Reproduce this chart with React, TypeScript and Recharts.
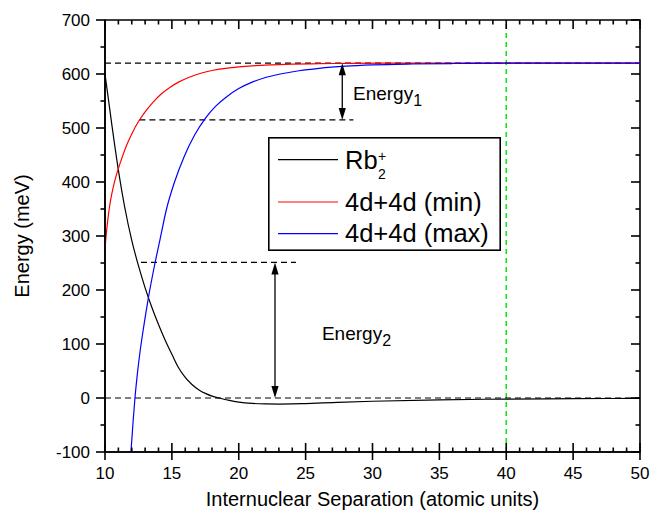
import React from 'react';
import {
  LineChart, Line, XAxis, YAxis, ReferenceLine, ReferenceDot, ReferenceArea, Legend,
} from 'recharts';

// ---------- data ----------
const rbX = [10, 10.5, 11, 11.5, 12, 12.5, 13, 13.5, 14, 14.5, 15, 15.5, 16, 16.5, 17, 17.5, 18, 18.6, 19.3, 20, 21, 22, 23, 24, 25, 27, 30, 35, 40, 45, 50];
const rbY = [600, 508, 422, 350, 292, 245, 204, 168, 136, 107, 81, 56, 38, 25, 15.5, 8.5, 3.5, -0.5, -4.5, -7.5, -10, -11, -11.3, -11, -10.3, -8.5, -6, -3.3, -2, -1.2, -0.8];

const minX = [10, 10.1, 10.2, 10.35, 10.5, 10.75, 11, 11.3, 11.6, 12, 12.5, 13, 13.6, 14.2, 14.9, 15.5, 16.3, 17.1, 18, 19, 20, 21, 22.5, 24, 26, 28, 31, 50];
const minY = [278, 305, 328, 356, 377, 404, 425, 447, 467, 489, 512, 530, 548, 563, 576, 585, 594, 601, 606.5, 610.5, 613.2, 615.2, 617, 618.2, 619.1, 619.6, 620, 620];

const maxX = [11.94, 12.1, 12.24, 12.4, 12.6, 12.9, 13.24, 13.74, 14.1, 14.6, 15.2, 15.9, 16.7, 17.5, 18.3, 19.1, 20, 21, 22, 23.1, 24.5, 26, 28, 30, 33, 36, 40, 50];
const maxY = [-100, -44, 0, 40, 82, 133, 185, 250, 292, 350, 400, 446, 487, 518, 541, 558, 573, 585, 593.5, 600, 606, 610.5, 614.5, 616.8, 618.5, 619.4, 620, 620];

const seriesNames = ['Rb2+', '4d+4d (min)', '4d+4d (max)'];

const xDomain = [10, 50];
const yDomain = [-100, 700];
const xTicks = Array.from({ length: 41 }, (_, i) => 10 + i);
const xMajor = [10, 15, 20, 25, 30, 35, 40, 45, 50];
const yTicks = Array.from({ length: 17 }, (_, i) => -100 + i * 50);
const yMajor = [-100, 0, 100, 200, 300, 400, 500, 600, 700];

const fullLevels = [620, 0];
const partialLevels = [
  { y: 515, x1: 12.57, x2: 28.57 },
  { y: 251, x1: 12.69, x2: 24.28 },
];
const arrows = [
  { x: 27.74, y1: 620, y2: 515 },
  { x: 22.71, y1: 251, y2: 0 },
];
const energyLabels = [
  { x: 28.54, y: 552, sub: '1' },
  { x: 26.22, y: 107, sub: '2' },
];
const markerX = 40;

const toPts = (xs: number[], ys: number[]) => xs.map((x, i) => ({ x, y: ys[i] }));
const rbData = toPts(rbX, rbY);
const minData = toPts(minX, minY);
const maxData = toPts(maxX, maxY);

const FONT = '"Liberation Sans", Arial, Helvetica, sans-serif';
const AX = 1.6;
const TK = 1.6;
const tickText = { fontSize: 17, fontFamily: FONT, fill: '#000' };

// ---------- inner / minor tick marks at the ends of full segments ----------
const makeXTick = (major: boolean) => (p: any) => {
  const { x1, y1, y2 } = p;
  const top = Math.min(y1, y2);
  const bot = Math.max(y1, y2);
  const len = major ? 9 : 4.5;
  return (
    <g>
      <line x1={x1} x2={x1} y1={bot - len} y2={bot} stroke="#000" strokeWidth={TK} />
      <line x1={x1} x2={x1} y1={top} y2={top + len} stroke="#000" strokeWidth={TK} />
    </g>
  );
};

const makeYTick = (major: boolean) => (p: any) => {
  const { x1, x2, y1 } = p;
  const left = Math.min(x1, x2);
  const right = Math.max(x1, x2);
  const len = major ? 9 : 4.5;
  return (
    <g>
      {!major && <line x1={left - 4.5} x2={left} y1={y1} y2={y1} stroke="#000" strokeWidth={TK} />}
      <line x1={right - len} x2={right} y1={y1} y2={y1} stroke="#000" strokeWidth={TK} />
    </g>
  );
};

// ---------- annotations ----------
const ArrowShape = (p: any) => {
  const { x1, y1, x2, y2 } = p;
  const L = 12;
  const W = 3.6;
  const top = Math.min(y1, y2);
  const bot = Math.max(y1, y2);
  return (
    <g>
      <line x1={x1} x2={x2} y1={top + L - 1} y2={bot - L + 1} stroke="#000" strokeWidth={1.3} />
      <path d={`M${x1},${top} L${x1 - W},${top + L} L${x1 + W},${top + L} Z`} fill="#000" />
      <path d={`M${x1},${bot} L${x1 - W},${bot - L} L${x1 + W},${bot - L} Z`} fill="#000" />
    </g>
  );
};

const makeEnergyLabel = (sub: string) => (p: any) => (
  <text x={p.cx} y={p.cy} fontSize={19} fontFamily={FONT} fill="#000">
    Energy
    <tspan dy={6} fontSize={16}>{sub}</tspan>
  </text>
);

// ---------- legend ----------
const LegendBox = (props: any) => {
  const payload = [...(props.payload || [])].sort(
    (a: any, b: any) => seriesNames.indexOf(a.value) - seriesNames.indexOf(b.value),
  );
  const lineYs = [22.6, 65, 96.6];
  const baseYs = [31.6, 74, 105];
  return (
    <svg width={233} height={114} style={{ display: 'block' }}>
      <rect x={0.8} y={0.8} width={231.4} height={112.4} fill="#fff" stroke="#000" strokeWidth={1.6} />
      {payload.map((entry: any, i: number) => (
        <g key={i}>
          <line x1={10} x2={70} y1={lineYs[i]} y2={lineYs[i]} stroke={entry.color} strokeWidth={1.2} />
          {entry.value === 'Rb2+' ? (
            <text x={77} y={baseYs[i]} fontSize={25.5} fontFamily={FONT} fill="#000">
              Rb
              <tspan x={110} dy={10} fontSize={14}>2</tspan>
              <tspan x={110} dy={-18} fontSize={14}>+</tspan>
            </text>
          ) : (
            <text x={77} y={baseYs[i]} fontSize={25.5} fontFamily={FONT} fill="#000">
              {entry.value}
            </text>
          )}
        </g>
      ))}
    </svg>
  );
};

export default function App() {
  return (
    <div style={{ position: 'absolute', left: 0, top: 0, width: 652, height: 517, background: '#fff' }}>
      <LineChart width={652} height={517} margin={{ top: 20, right: 12, bottom: 0, left: 0 }}>
        <XAxis
          dataKey="x"
          type="number"
          domain={xDomain}
          ticks={xMajor}
          interval={0}
          height={65}
          tickSize={8}
          tickMargin={7}
          stroke="#000"
          tickLine={{ stroke: '#000', strokeWidth: TK }}
          axisLine={{ stroke: '#000', strokeWidth: AX }}
          tick={tickText}
          label={{
            value: 'Internuclear Separation (atomic units)',
            position: 'insideBottom',
            offset: 11,
            fontSize: 20,
            fontFamily: FONT,
            fill: '#000',
          }}
        />
        <YAxis
          type="number"
          domain={yDomain}
          ticks={yMajor}
          interval={0}
          width={105}
          tickSize={9}
          tickMargin={6}
          stroke="#000"
          tickLine={{ stroke: '#000', strokeWidth: TK }}
          axisLine={{ stroke: '#000', strokeWidth: AX }}
          tick={tickText}
          label={{
            value: 'Energy (meV)',
            angle: -90,
            position: 'insideLeft',
            offset: 22,
            fontSize: 20,
            fontFamily: FONT,
            fill: '#000',
            style: { textAnchor: 'middle' },
          }}
        />

        <ReferenceLine x={markerX} stroke="#00ee00" strokeWidth={1.5} strokeDasharray="5 4" />
        {fullLevels.map((v) => (
          <ReferenceLine key={'f' + v} y={v} stroke="#000" strokeWidth={1.2} strokeDasharray="6 4" />
        ))}
        {partialLevels.map((l) => (
          <ReferenceLine
            key={'p' + l.y}
            segment={[{ x: l.x1, y: l.y }, { x: l.x2, y: l.y }]}
            stroke="#000"
            strokeWidth={1.2}
            strokeDasharray="6 4"
          />
        ))}

        <Line data={rbData} dataKey="y" name={seriesNames[0]} type="monotone" stroke="#000" strokeWidth={1.2} dot={false} isAnimationActive={false} />
        <Line data={minData} dataKey="y" name={seriesNames[1]} type="monotone" stroke="#ff0000" strokeWidth={1.2} dot={false} isAnimationActive={false} />
        <Line data={maxData} dataKey="y" name={seriesNames[2]} type="monotone" stroke="#0000ff" strokeWidth={1.2} dot={false} isAnimationActive={false} />

        <ReferenceArea
          x1={xDomain[0]}
          x2={xDomain[1]}
          y1={yDomain[0]}
          y2={yDomain[1]}
          fill="none"
          fillOpacity={0}
          stroke="#000"
          strokeWidth={AX}
          ifOverflow="visible"
        />
        {xTicks.map((v) => (
          <ReferenceLine
            key={'xt' + v}
            segment={[{ x: v, y: yDomain[0] }, { x: v, y: yDomain[1] }]}
            stroke="#000"
            shape={makeXTick(xMajor.includes(v))}
          />
        ))}
        {yTicks.map((v) => (
          <ReferenceLine
            key={'yt' + v}
            segment={[{ x: xDomain[0], y: v }, { x: xDomain[1], y: v }]}
            stroke="#000"
            shape={makeYTick(yMajor.includes(v))}
          />
        ))}

        {arrows.map((a) => (
          <ReferenceLine
            key={'a' + a.x}
            segment={[{ x: a.x, y: a.y1 }, { x: a.x, y: a.y2 }]}
            stroke="#000"
            shape={(p: any) => <ArrowShape {...p} />}
          />
        ))}
        {energyLabels.map((e) => (
          <ReferenceDot key={'e' + e.sub} x={e.x} y={e.y} r={0} shape={makeEnergyLabel(e.sub)} />
        ))}

        <Legend
          layout="horizontal"
          verticalAlign="middle"
          align="center"
          wrapperStyle={{ position: 'absolute', left: 268, top: 137, width: 233, height: 114 }}
          content={(p: any) => <LegendBox {...p} />}
        />
      </LineChart>
    </div>
  );
}
